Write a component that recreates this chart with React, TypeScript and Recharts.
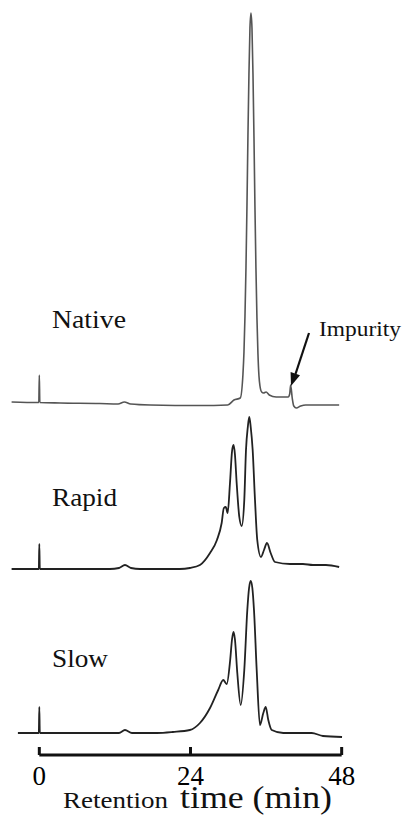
import { ComposedChart, Line, XAxis, YAxis, ReferenceLine } from "recharts";

// retention time (min) and detector signal above each trace's own baseline
const nativeTime = [-4.4, -0.2, -0.08, 0, 0.08, 3.3, 9.6, 12.5, 13.5, 14.5, 17.6, 25.5, 29.9, 30.9, 31.9, 32.33, 32.49, 32.65, 32.81, 32.97, 33.12, 33.28, 33.44, 33.6, 33.76, 33.92, 34.08, 34.23, 34.39, 34.55, 34.71, 34.87, 35.03, 35.3, 35.6, 36.0, 36.5, 37.6, 39.5, 39.75, 39.9, 40.15, 40.4, 40.8, 41.5, 42.3, 47.6];
const nativeSignal = [2, 1.5, 1.5, 29, 1.5, 1, 0.5, 0, 2, 0, -1, -1.5, -1, 4, 6, 30, 52, 88, 137, 200, 268, 330, 376, 391, 376, 330, 266, 198, 136, 86, 50, 28, 18, 12, 11, 12, 9, 7, 7, 10, 19, 6, -2, -4, -2, -1, -1];

const rapidTime = [-4.4, -0.2, -0.08, 0, 0.08, 11.2, 12.65, 13.6, 14.55, 16, 22.3, 23.9, 25.5, 27.1, 28.2, 28.95, 29.3, 29.6, 29.9, 30.27, 30.6, 30.83, 31.05, 31.33, 31.75, 32.13, 32.54, 32.81, 33.1, 33.33, 33.56, 33.87, 34.24, 34.6, 35.19, 35.67, 36.14, 36.73, 37.41, 39.8, 41.86, 43.44, 45.5, 47.6];
const rapidSignal = [0, 0, 0, 25, 0, 0, 1, 4, 1, 0, 0, 1, 4, 16, 29, 46, 61, 62, 56, 86, 118, 124, 115, 86, 52, 43, 69, 119, 142, 152, 142, 119, 69, 29, 12, 19, 26, 16, 7, 5, 5, 4, 4, 2];

const slowTime = [-3.4, -0.2, -0.08, 0, 0.08, 4.9, 11.2, 12.65, 13.6, 14.7, 18.7, 21.2, 23.9, 25.5, 27.1, 28.4, 29.2, 29.75, 30.3, 30.6, 30.83, 31.05, 31.43, 31.97, 32.54, 33.02, 33.3, 33.56, 33.82, 34.08, 34.51, 35.03, 35.56, 35.94, 36.35, 36.9, 38.73, 41.4, 43.24, 45.03, 48.06];
const slowSignal = [0, 0, 0, 26, 0, 0, 0, 0, 3, 0, 0, 1, 3, 10, 25, 43, 53, 49, 73, 94, 101, 94, 60, 28, 63, 123, 145, 152, 145, 123, 63, 8, 20, 26, 13, 3, 0, 0, 0, -3, -4];

const NATIVE_OFFSET = 351;
const RAPID_OFFSET = 186;
const SLOW_OFFSET = 22;

const xTicks = [0, 24, 48];
const TICK_LEN = 8;

const toRows = (time: number[], signal: number[], offset: number) =>
  time.map((t, i) => ({ t, y: signal[i] + offset }));

const nativeData = toRows(nativeTime, nativeSignal, NATIVE_OFFSET);
const rapidData = toRows(rapidTime, rapidSignal, RAPID_OFFSET);
const slowData = toRows(slowTime, slowSignal, SLOW_OFFSET);

const SERIF = "Liberation Serif, Times New Roman, serif";

const Txt = ({ x, y, size, len, children }: { x: number; y: number; size: number; len: number; children: string }) => (
  <text x={x} y={y} fontSize={size} textLength={len} lengthAdjust="spacingAndGlyphs" style={{ fontFamily: SERIF }} fill="#111">
    {children}
  </text>
);

export default function App() {
  return (
    <div style={{ position: "absolute", left: 0, top: 0, width: 402, height: 834, background: "#fff" }}>
      <ComposedChart width={402} height={834} margin={{ top: 13, right: 59.7, bottom: 0, left: 11.6 }}>
        <XAxis
          type="number"
          dataKey="t"
          domain={[-4.4, 48.1]}
          ticks={xTicks}
          axisLine={false}
          tickLine={false}
          tickSize={6}
          tickMargin={5}
          height={79}
          tick={{ fontSize: 27, fill: "#000", style: { fontFamily: SERIF } }}
        />
        <YAxis type="number" domain={[0, 742]} hide />
        <ReferenceLine segment={[{ x: 0, y: 0 }, { x: 48, y: 0 }]} stroke="#111" strokeWidth={3} />
        {xTicks.map((t) => (
          <ReferenceLine key={t} segment={[{ x: t, y: 0 }, { x: t, y: TICK_LEN }]} stroke="#111" strokeWidth={3} />
        ))}
        <Line data={nativeData} dataKey="y" type="monotone" stroke="#555" strokeWidth={1.6} dot={false} isAnimationActive={false} />
        <Line data={rapidData} dataKey="y" type="monotone" stroke="#222" strokeWidth={1.8} dot={false} isAnimationActive={false} />
        <Line data={slowData} dataKey="y" type="monotone" stroke="#222" strokeWidth={1.8} dot={false} isAnimationActive={false} />
      </ComposedChart>

      <svg width={402} height={834} style={{ position: "absolute", left: 0, top: 0, pointerEvents: "none" }}>
        <Txt x={52} y={328} size={25} len={74}>Native</Txt>
        <Txt x={52} y={506} size={25} len={65}>Rapid</Txt>
        <Txt x={52} y={667} size={25} len={56}>Slow</Txt>
        <Txt x={319} y={336} size={21} len={82}>Impurity</Txt>
        <Txt x={63} y={808} size={23} len={105}>Retention</Txt>
        <Txt x={180} y={808} size={31} len={152}>time (min)</Txt>
        <line x1={309} y1={333} x2={295.5} y2={374} stroke="#111" strokeWidth={2.2} />
        <polygon points="291,386 300,375.3 290.6,372.1" fill="#111" />
      </svg>
    </div>
  );
}
